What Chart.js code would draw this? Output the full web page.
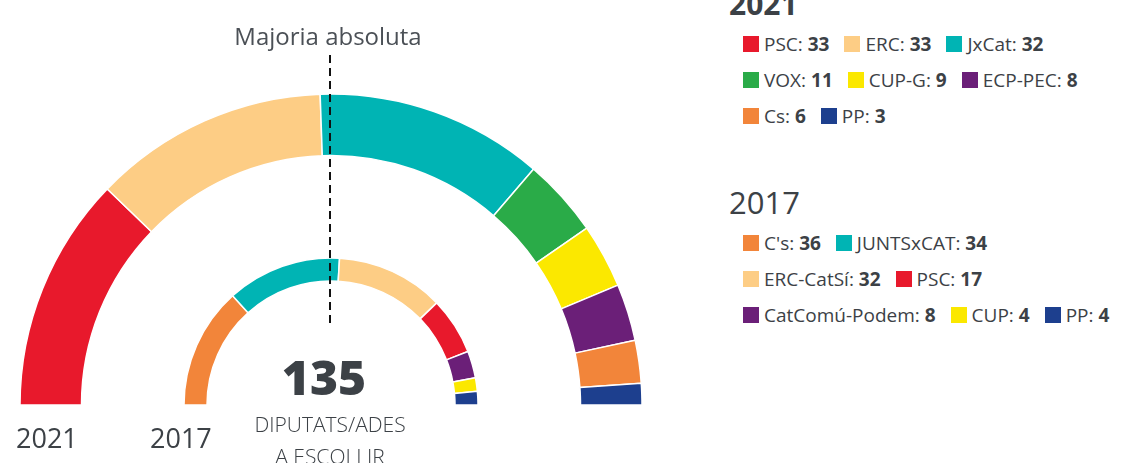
<!DOCTYPE html>
<html>
<head>
<meta charset="utf-8">
<script src="https://cdn.jsdelivr.net/npm/chart.js@4.4.1/dist/chart.umd.min.js"></script>
<style>
  html, body { margin: 0; padding: 0; background: #fff; }
  body { width: 1123px; height: 463px; position: relative; overflow: hidden; font-family: "Open Sans", sans-serif; color: #3c4146; }
  canvas { position: absolute; left: 0; top: 0; }
  .txt { position: absolute; line-height: 1; white-space: nowrap; }
  .center { transform: translateX(-50%); text-align: center; }
  .legend-row { position: absolute; left: 743px; height: 36px; display: flex; align-items: center; font-size: 19px; white-space: nowrap; }
  .item { display: flex; align-items: center; margin-right: 15px; }
  .sw { width: 16px; height: 16px; margin-right: 5px; }
  .item b { font-weight: 700; }
</style>
</head>
<body>
<canvas id="ring2021" width="700" height="463"></canvas>
<canvas id="ring2017" width="700" height="463"></canvas>

<div class="txt center" style="left:328px; top:24px; font-size:24px; color:#4b5056;">Majoria absoluta</div>
<div class="txt center" style="left:324px; top:353px; font-size:48px; font-weight:800;">135</div>
<div class="txt center" style="left:330px; top:414px; font-size:21px; font-weight:300;">DIPUTATS/ADES</div>
<div class="txt center" style="left:330px; top:446px; font-size:21px; font-weight:300;">A ESCOLLIR</div>
<div class="txt" style="left:16px; top:424px; font-size:27px;">2021</div>
<div class="txt" style="left:150px; top:424px; font-size:27px;">2017</div>

<div class="txt" style="left:729px; top:-11px; font-size:30px; font-weight:700;">2021</div>
<div class="txt" style="left:729px; top:187px; font-size:31px;">2017</div>
<div id="legend"></div>

<script>
// 2021 results, left to right around the hemicycle
const parties2021 = ['PSC', 'ERC', 'JxCat', 'VOX', 'CUP-G', 'ECP-PEC', 'Cs', 'PP'];
const seats2021 = [33, 33, 32, 11, 9, 8, 6, 3];
const colors2021 = ['#e8192c', '#fdcd85', '#00b4b4', '#2aab48', '#fbe800', '#6b1f78', '#f2853a', '#1d3f8e'];

// 2017 results
const parties2017 = ['C\'s', 'JUNTSxCAT', 'ERC-CatSí', 'PSC', 'CatComú-Podem', 'CUP', 'PP'];
const seats2017 = [36, 34, 32, 17, 8, 4, 4];
const colors2017 = ['#f2853a', '#00b4b4', '#fdcd85', '#e8192c', '#6b1f78', '#fbe800', '#1d3f8e'];

const CX = 331, CY = 405;

function ringChart(id, labels, data, colors, radius, inner) {
  return new Chart(document.getElementById(id), {
    type: 'doughnut',
    data: {
      labels,
      datasets: [{ data, backgroundColor: colors, borderColor: '#fff', borderWidth: 1.5 }],
    },
    options: {
      responsive: false,
      animation: false,
      rotation: -90,
      circumference: 180,
      radius,
      cutout: (inner / radius * 100) + '%',
      layout: {
        padding: { left: CX - radius, right: 700 - CX - radius, top: CY - radius, bottom: 463 - CY },
      },
      plugins: { legend: { display: false }, tooltip: { enabled: false } },
    },
    plugins: id === 'ring2017' ? [majorityLine] : [],
  });
}

// dashed line marking half of the seats, drawn over both rings
const majorityLine = {
  id: 'majorityLine',
  afterDraw(chart) {
    const { ctx } = chart;
    const x = chart.getDatasetMeta(0).data[0].x - 1;
    ctx.save();
    ctx.strokeStyle = '#111';
    ctx.lineWidth = 2;
    ctx.setLineDash([8, 5]);
    ctx.beginPath();
    ctx.moveTo(x, 55);
    ctx.lineTo(x, 325);
    ctx.stroke();
    ctx.restore();
  },
};

ringChart('ring2021', parties2021, seats2021, colors2021, 311, 249.5);
ringChart('ring2017', parties2017, seats2017, colors2017, 147, 124);

function buildLegend(labels, values, colors, rows, top) {
  const legend = document.getElementById('legend');
  let i = 0;
  rows.forEach((count, r) => {
    const row = document.createElement('div');
    row.className = 'legend-row';
    row.style.top = (top + r * 36) + 'px';
    for (let k = 0; k < count; k++, i++) {
      const item = document.createElement('div');
      item.className = 'item';
      item.innerHTML = `<span class="sw" style="background:${colors[i]}"></span><span>${labels[i]}: <b>${values[i]}</b></span>`;
      row.appendChild(item);
    }
    legend.appendChild(row);
  });
}

buildLegend(parties2021, seats2021, colors2021, [3, 3, 2], 26);
buildLegend(parties2017, seats2017, colors2017, [2, 2, 3], 225);
</script>
</body>
</html>
